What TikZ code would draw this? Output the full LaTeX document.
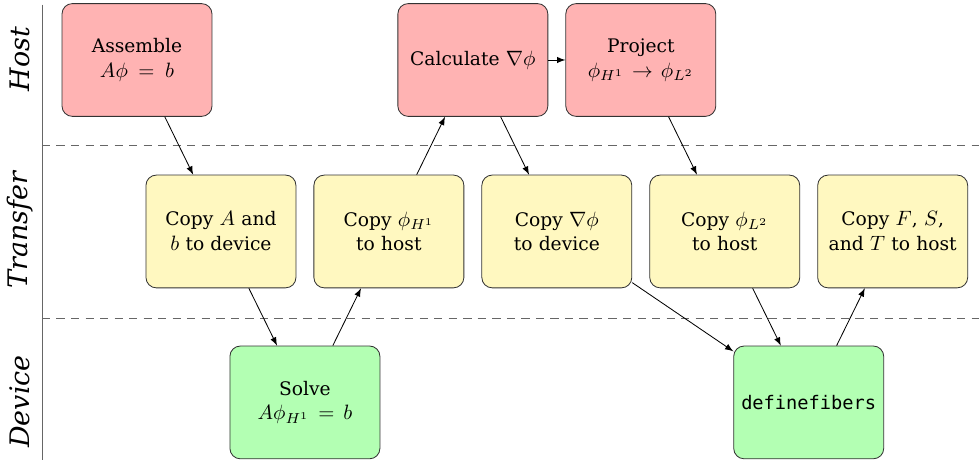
\documentclass[tikz,border=0pt]{standalone}
\usepackage{fontspec}
\setmainfont{DejaVu Serif}[Scale=0.9]
\setmonofont{DejaVu Sans Mono}[Scale=0.9]
\usetikzlibrary{arrows}
\definecolor{hostred}{RGB}{255,179,179}
\definecolor{transyellow}{RGB}{255,248,192}
\definecolor{devgreen}{RGB}{179,255,179}
\tikzset{
    task/.style={draw=black!80, rounded corners=5pt, minimum width=2.54cm, minimum height=1.91cm, align=center, text width=2.3cm},
    hosttask/.style={task, fill=hostred},
    copytask/.style={task, fill=transyellow},
    devtask/.style={task, fill=devgreen},
    lane/.style={rotate=90, font=\Large\itshape},
    flow/.style={-latex, black},
    lanesep/.style={black!60, dash pattern=on 4pt off 3pt}
}

\begin{document}
\begin{tikzpicture}
                \useasboundingbox (0,0) rectangle (16.58,-7.86);
                \draw[black!60] (0.71,-0.08) -- (0.71,-7.79);
                \draw[lanesep] (0.71,-2.455) -- (16.58,-2.455);
                \draw[lanesep] (0.71,-5.40) -- (16.58,-5.40);
                \node[lane] (host) at (0.34,-1.0) {Host};
                \node[lane] (transfer) at (0.34,-3.9) {Transfer};
                \node[lane] (device) at (0.34,-6.8) {Device};
                \node[hosttask] (assemble) at (2.32,-1.016) {Assemble\\$A\phi = b$};
                \node[hosttask] (calc) at (8.008,-1.016) {Calculate $\nabla\phi$};
                \node[hosttask] (project) at (10.852,-1.016) {Project\\$\phi_{H^1}\to\phi_{L^2}$};
                \node[copytask] (copyab) at (3.742,-3.92) {Copy $A$ and\\$b$ to device};
                \node[copytask] (copyh) at (6.586,-3.92) {Copy $\phi_{H^1}$\\to host};
                \node[copytask] (copygrad) at (9.430,-3.92) {Copy $\nabla\phi$\\to device};
                \node[copytask] (copyl) at (12.274,-3.92) {Copy $\phi_{L^2}$\\to host};
                \node[copytask] (copyfst) at (15.118,-3.92) {Copy $F$, $S$,\\and $T$ to host};
                \node[devtask] (solve) at (5.164,-6.815) {Solve\\$A\phi_{H^1} = b$};
                \node[devtask] (fibers) at (13.696,-6.815) {\texttt{definefibers}};
                \draw[flow] (assemble) -- (copyab);
                \draw[flow] (copyab) -- (solve);
                \draw[flow] (solve) -- (copyh);
                \draw[flow] (copyh) -- (calc);
                \draw[flow] (calc) -- (copygrad);
                \draw[flow] (calc) -- (project);
                \draw[flow] (project) -- (copyl);
                \draw[flow] (copygrad) -- (fibers);
                \draw[flow] (copyl) -- (fibers);
                \draw[flow] (fibers) -- (copyfst);
            \end{tikzpicture}
\end{document}
